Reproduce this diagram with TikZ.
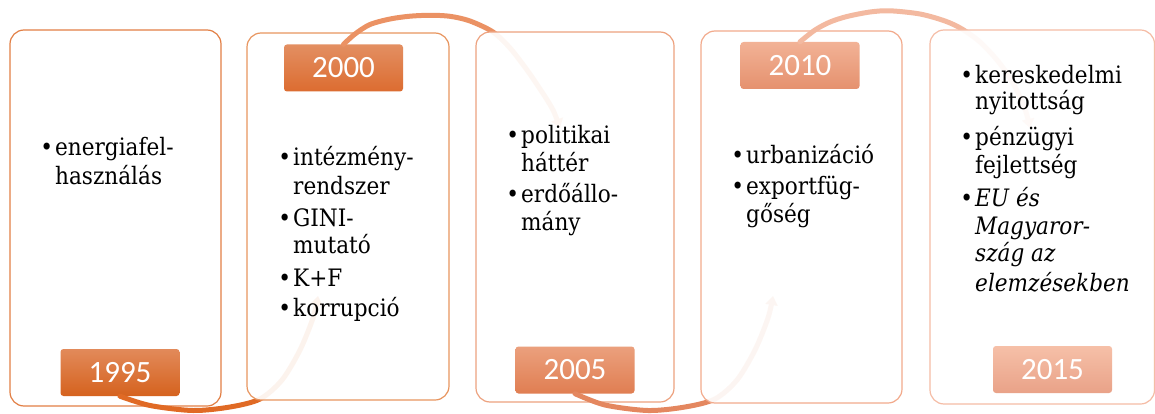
\documentclass[tikz,border=0pt]{standalone}
\usepackage{fontspec}
\newfontfamily\txtfont{DejaVu Serif}[FakeStretch=0.9]
\newfontfamily\labfont{Carlito}
\usetikzlibrary{arrows.meta,shadings}
\definecolor{bA}{HTML}{E27F45}
\definecolor{bB}{HTML}{E8955F}
\definecolor{bC}{HTML}{EDA27F}
\definecolor{bD}{HTML}{F2AA8C}
\definecolor{bE}{HTML}{F5BCA5}
\definecolor{aA}{HTML}{E06A25}
\definecolor{aB}{HTML}{EB9264}
\definecolor{aC}{HTML}{E4875F}
\definecolor{aD}{HTML}{F3B9A0}
\definecolor{lAt}{HTML}{E28A5A}\definecolor{lAm}{HTML}{E07030}\definecolor{lAb}{HTML}{D5621E}
\definecolor{lBt}{HTML}{E38F62}\definecolor{lBm}{HTML}{E47A3E}\definecolor{lBb}{HTML}{DC6C30}
\definecolor{lCt}{HTML}{EBA07D}\definecolor{lCm}{HTML}{EE915F}\definecolor{lCb}{HTML}{E07E52}
\definecolor{lDt}{HTML}{F2B296}\definecolor{lDm}{HTML}{F0A07C}\definecolor{lDb}{HTML}{E5916E}
\definecolor{lEt}{HTML}{F6C0A8}\definecolor{lEm}{HTML}{F3B196}\definecolor{lEb}{HTML}{E9A288}
\newcommand\bul{\makebox[14.9pt][l]{•}}
\begin{document}
\begin{tikzpicture}[x=1pt,y=-1pt,
  tlbox/.style={draw=#1, line width=1.2pt, rounded corners=14pt, fill=white,
    fill opacity=0.92, inner sep=0pt},
  lab/.style={rounded corners=3pt, minimum width=119pt, minimum height=47pt,
    inner sep=0pt, text=white, top color=l#1t, middle color=l#1m, bottom color=l#1b,
    font=\labfont\fontsize{31}{31}\selectfont},
  txt/.style={anchor=base west, inner sep=0pt, font=\txtfont\fontsize{24}{27.5}\selectfont},
  arrowarc/.style={draw=#1, line width=5pt, line cap=round,
    -{Triangle[width=12pt,length=9pt]}}
]
\useasboundingbox (0,0) rectangle (1155,414);
\clip (0,0) rectangle (1155,414);

% ---- 1995
\node[tlbox=bA, minimum width=211pt, minimum height=376pt] (b1) at (115.5,218) {};
\node[txt] (t1a) at (40.1,156) {\bul energiafel-};
\node[txt] (t1b) at (55,184) {használás};
\node[lab=A] (y1) at (120,372.5) {1995};
\coordinate (e1) at (318,296);
\draw[arrowarc=aA] plot[smooth] coordinates {(y1.south) (150,405.5) (193,410.5) (230,407) (260,399) (282,380) (300,350) (313,318) (e1)};

% ---- 2000
\node[tlbox=bB, minimum width=202pt, minimum height=367pt] (b2) at (348,216.5) {};
\node[txt] (t2a) at (278.1,166) {\bul intézmény-};
\node[txt] (t2b) at (293,194) {rendszer};
\node[txt] (t2c) at (278.1,226) {\bul GINI-};
\node[txt] (t2d) at (293,253) {mutató};
\node[txt] (t2e) at (278.1,286) {\bul K+F};
\node[txt] (t2f) at (278.1,316) {\bul korrupció};
\node[lab=B] (y2) at (343.5,68) {2000};
\coordinate (e2) at (560,128);
\draw[arrowarc=aB] plot[smooth] coordinates {(y2.north) (355,34) (370,24.5) (390,19) (410,16.2) (430,15.3) (450,16.3) (470,21) (493,32) (510,48) (527,70) (542,92) (553,110) (e2)};

% ---- 2005
\node[tlbox=bC, minimum width=198pt, minimum height=370pt] (b3) at (575,217) {};
\node[txt] (t3a) at (506.1,143.3) {\bul politikai};
\node[txt] (t3b) at (521,171.7) {háttér};
\node[txt] (t3c) at (506.1,202.7) {\bul erdőállo-};
\node[txt] (t3d) at (521,230) {mány};
\node[lab=C] (y3) at (575,370) {2005};
\coordinate (e3) at (773,296);
\draw[arrowarc=aC] plot[smooth] coordinates {(y3.south) (605,405) (648,410.5) (685,407) (715,399) (737,380) (755,350) (768,318) (e3)};

% ---- 2010
\node[tlbox=bD, minimum width=201pt, minimum height=372pt] (b4) at (801.5,217) {};
\node[txt] (t4a) at (731.1,163.5) {\bul urbanizáció};
\node[txt] (t4b) at (731.1,194.5) {\bul exportfüg-};
\node[txt] (t4c) at (746,222) {gőség};
\node[lab=D] (y4) at (800,65.5) {2010};
\coordinate (e4) at (1030,128);
\draw[arrowarc=aD] plot[smooth] coordinates {(y4.north) (815,30) (830,22) (847,16.5) (870,12) (890,10.8) (920,14) (945,21) (962,29) (980,42) (997,60) (1010,78) (1020,97) (1026,112) (e4)};

% ---- 2015
\node[tlbox=bE, minimum width=224.5pt, minimum height=374pt] (b5) at (1042.25,217) {};
\node[txt] (t5a) at (960.1,83.3) {\bul kereskedelmi};
\node[txt] (t5b) at (975,110) {nyitottság};
\node[txt] (t5c) at (960.1,145.7) {\bul pénzügyi};
\node[txt] (t5d) at (975,173.3) {fejlettség};
\node[txt] (t5e) at (960.1,206) {\bul\itshape EU és};
\node[txt] (t5f) at (975,234.3) {\itshape Magyaror-};
\node[txt] (t5g) at (975,261.7) {\itshape szág az};
\node[txt] (t5h) at (975,291) {\itshape elemzésekben};
\node[lab=E] (y5) at (1052.5,369.5) {2015};
\end{tikzpicture}
\end{document}
